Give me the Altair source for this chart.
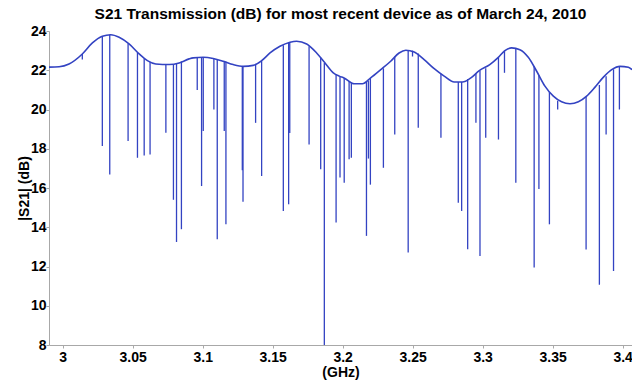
import altair as alt
import pandas as pd

# Smooth baseline of the transmission curve (GHz, dB)
base_x = [2.9902, 2.9974, 3.0045, 3.0140, 3.0212, 3.0283, 3.0343, 3.0403, 3.0474,
          3.0546, 3.0605, 3.0665, 3.0760, 3.0832, 3.0903, 3.0932, 3.1004, 3.1075,
          3.1147, 3.1218, 3.1290, 3.1361, 3.1421, 3.1481, 3.1552, 3.1624, 3.1671,
          3.1743, 3.1814, 3.1874, 3.1933, 3.1976, 3.2010, 3.2082, 3.2141, 3.2200,
          3.2272, 3.2343, 3.2403, 3.2451, 3.2511, 3.2582, 3.2654, 3.2725, 3.2797,
          3.2856, 3.2916, 3.2976, 3.3051, 3.3112, 3.3159, 3.3207, 3.3266, 3.3326,
          3.3386, 3.3445, 3.3505, 3.3564, 3.3624, 3.3684, 3.3743, 3.3803, 3.3863,
          3.3922, 3.3981, 3.4041, 3.4067]
base_y = [22.16, 22.18, 22.32, 22.83, 23.39, 23.73, 23.81, 23.68, 23.34,
          22.83, 22.49, 22.32, 22.29, 22.37, 22.58, 22.63, 22.66, 22.60,
          22.46, 22.29, 22.20, 22.25, 22.49, 22.88, 23.22, 23.43, 23.48,
          23.34, 22.88, 22.37, 21.87, 21.70, 21.61, 21.31, 21.31, 21.61,
          22.03, 22.46, 22.88, 23.02, 22.93, 22.54, 22.08, 21.70, 21.40,
          21.40, 21.61, 21.98, 22.29, 22.66, 23.00, 23.14, 23.05, 22.66,
          21.95, 21.19, 20.68, 20.39, 20.29, 20.39, 20.68, 21.14, 21.65,
          22.03, 22.20, 22.15, 22.03]

# Narrow resonance dips: position, level at the curve, level at the bottom
dip_x = [3.0140, 3.0283, 3.0336, 3.0467, 3.0534, 3.0582, 3.0624, 3.0737, 3.0791,
         3.0813, 3.0848, 3.0961, 3.0992, 3.1004, 3.1080, 3.1104, 3.1154, 3.1166,
         3.1283, 3.1288, 3.1378, 3.1421, 3.1576, 3.1614, 3.1622, 3.1760, 3.1843,
         3.1869, 3.1953, 3.1981, 3.2011, 3.2046, 3.2062, 3.2170, 3.2184, 3.2198,
         3.2291, 3.2372, 3.2468, 3.2499, 3.2540, 3.2702, 3.2826, 3.2850, 3.2893,
         3.2952, 3.2981, 3.3022, 3.3113, 3.3156, 3.3237, 3.3368, 3.3402, 3.3477,
         3.3536, 3.3739, 3.3834, 3.3882, 3.3935, 3.3977]
dip_top = [22.83, 23.73, 23.81, 23.36, 22.90, 22.60, 22.42, 22.29, 22.32,
           22.35, 22.45, 22.63, 22.65, 22.66, 22.60, 22.57, 22.45, 22.43,
           22.20, 22.20, 22.30, 22.49, 23.28, 23.42, 23.43, 23.22, 22.65,
           22.37, 21.80, 21.68, 21.60, 21.45, 21.38, 21.40, 21.45, 21.60,
           22.10, 22.70, 23.02, 23.00, 22.85, 21.82, 21.40, 21.40, 21.55,
           21.85, 21.98, 22.10, 22.66, 23.00, 23.10, 22.20, 21.75, 20.90,
           20.45, 20.65, 21.25, 21.70, 22.05, 22.20]
dip_bottom = [22.55, 18.14, 16.69, 18.39, 17.54, 17.66, 17.71, 18.81, 15.40,
              13.25, 13.90, 21.00, 16.10, 18.90, 20.00, 13.39, 18.90, 14.15,
              16.90, 15.30, 19.32, 16.61, 14.83, 15.17, 18.80, 18.22, 16.95,
              8.00, 14.24, 16.53, 16.27, 17.46, 17.54, 13.56, 17.50, 16.17,
              17.03, 18.73, 12.71, 22.70, 19.07, 18.56, 15.25, 14.83, 12.88,
              19.32, 12.54, 18.56, 18.47, 21.87, 16.27, 11.95, 15.95, 14.15,
              20.00, 12.87, 11.07, 18.73, 11.77, 20.00]

x_ticks = [3, 3.05, 3.1, 3.15, 3.2, 3.25, 3.3, 3.35, 3.4]
y_ticks = [8, 10, 12, 14, 16, 18, 20, 22, 24]

base_df = pd.DataFrame({"f": base_x, "s21": base_y})
dip_df = pd.DataFrame({"f": dip_x, "top": dip_top, "bottom": dip_bottom})

FONT = "Liberation Sans"
BLUE = "#3343c2"

xscale = alt.Scale(domain=[2.9902, 3.4067], nice=False, zero=False)
yscale = alt.Scale(domain=[8, 24], nice=False, zero=False)

xaxis = alt.Axis(values=x_ticks, format="~g", title="(GHz)", grid=False,
                 tickSize=3, labelPadding=2, titlePadding=1, labelOverlap=False,
                 domainColor="#a8a8a8", tickColor="#a8a8a8")
yaxis = alt.Axis(values=y_ticks, title="|S21| (dB)", grid=False,
                 tickSize=3, labelPadding=0, titlePadding=-1, labelOverlap=False,
                 domainColor="#a8a8a8", tickColor="#a8a8a8")

rules = alt.Chart(dip_df).mark_rule(color=BLUE, strokeWidth=1.3).encode(
    x=alt.X("f:Q", scale=xscale, axis=xaxis),
    y=alt.Y("top:Q", scale=yscale, axis=yaxis),
    y2="bottom:Q",
)

line = alt.Chart(base_df).mark_line(color=BLUE, strokeWidth=1.6,
                                    interpolate="monotone").encode(
    x=alt.X("f:Q", scale=xscale, axis=xaxis),
    y=alt.Y("s21:Q", scale=yscale, axis=yaxis),
)

chart = alt.layer(rules, line).properties(
    width=583,
    height=314,
    title=alt.TitleParams(
        "S21 Transmission (dB) for most recent device as of March 24, 2010",
        font=FONT, fontSize=15.5, fontWeight="bold", color="black",
        anchor="middle", frame="group", offset=2,
    ),
    padding={"left": 49, "top": 31, "right": 0, "bottom": 36},
    autosize=alt.AutoSizeParams(type="none"),
).configure(background="white").configure_view(stroke=None).configure_axis(
    labelFont=FONT, labelFontSize=14, labelFontWeight="bold", labelColor="black",
    titleFont=FONT, titleFontSize=14, titleFontWeight="bold", titleColor="black",
)

chart.save("out.html", embed_options={"renderer": "svg", "actions": False})
